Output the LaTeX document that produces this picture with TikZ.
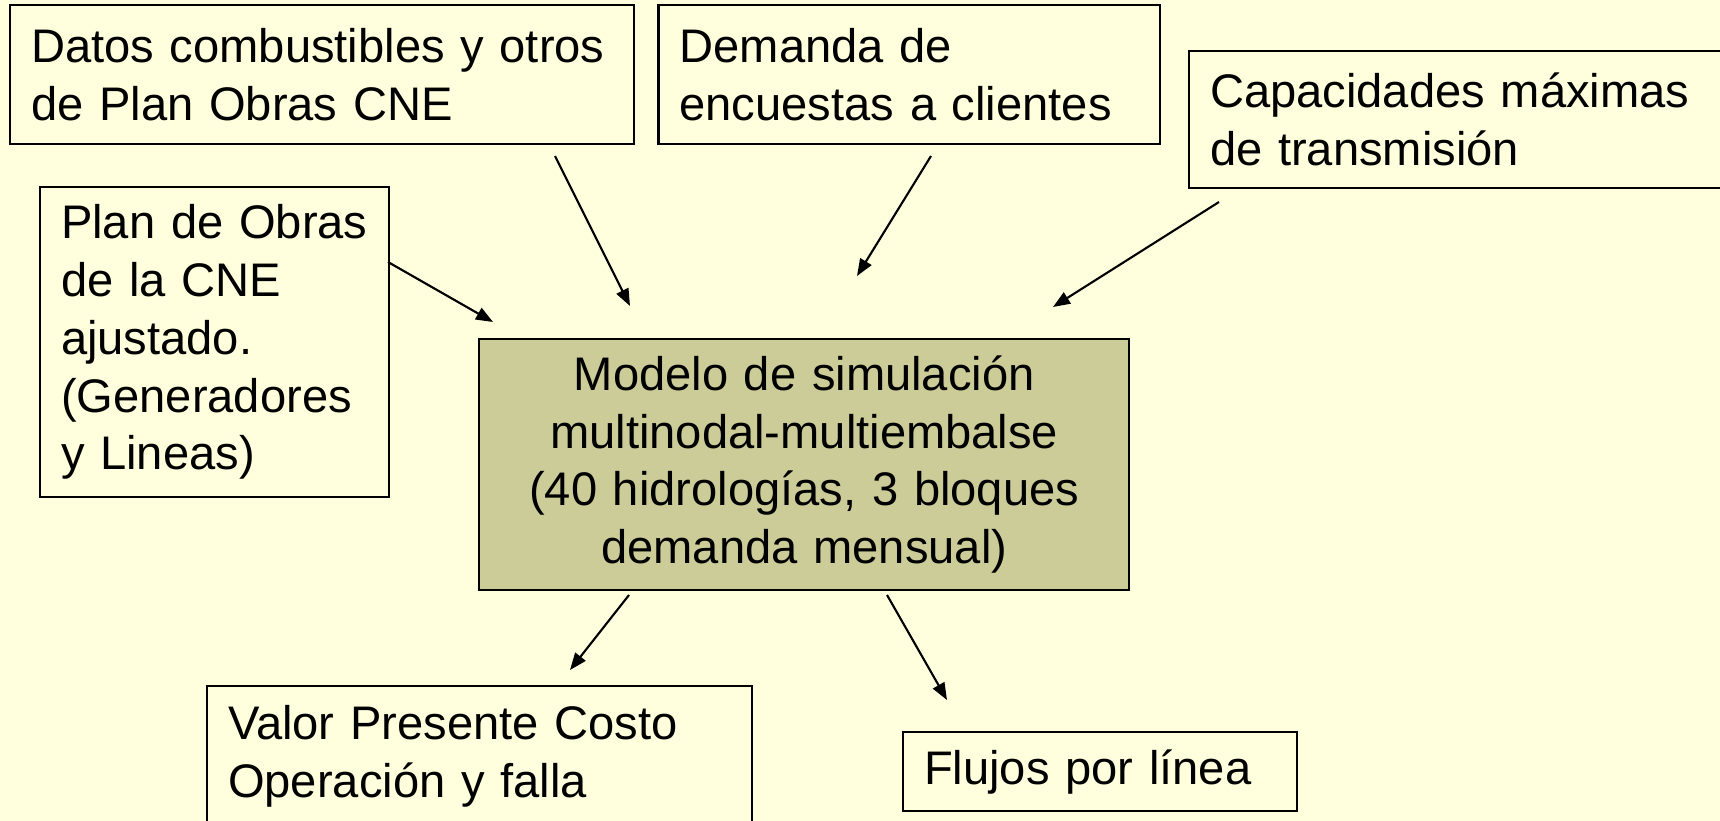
\documentclass[tikz,border=0pt]{standalone}
\usepackage{fontspec}
\setmainfont{Liberation Sans}
\usepackage{tikz}
\usetikzlibrary{positioning, arrows.meta}
\definecolor{fondo}{RGB}{255,255,221}
\definecolor{oliva}{RGB}{204,204,153}
\tikzstyle{caja}=[%
      rectangle, draw=black, line width=0.6pt, fill=fondo, align=left,
      anchor=north west, inner xsep=0.21cm, inner ysep=0pt,
      font=\fontsize{13.4pt}{16.4pt}\selectfont
]
\tikzstyle{modelo}=[%
      caja, fill=oliva, align=center
]
\begin{document}
\begin{tikzpicture}[x=0.01cm, y=-0.01cm,
    ->,
    >={Triangle[length=1.7mm, width=1.3mm]},
    line width=0.6pt,
]
    \fill[fondo, -] (0,0) rectangle (1720,821);
    \useasboundingbox (0,0) rectangle (1720,821);

    \node[caja, text width=5.82cm, minimum height=1.39cm] (datos) at (9,4)
        {Datos combustibles y otros\\de Plan Obras CNE};
    \node[caja, text width=4.59cm, minimum height=1.39cm] (demanda) [right=0.22cm of datos]
        {Demanda de\\encuestas a clientes};
    \node[caja, text width=5.18cm, minimum height=1.37cm] (capac) at (1188,50)
        {Capacidades m\'aximas\\de transmisi\'on};
    \node[caja, inner xsep=0.16cm, text width=3.17cm, minimum height=3.10cm] (plan) at (39,186)
        {\hspace*{0.05cm}Plan de Obras\\\hspace*{0.05cm}de la CNE\\\hspace*{0.05cm}ajustado.\\\hspace*{0.05cm}(Generadores\\\hspace*{0.05cm}y Lineas)};
    \node[modelo, text width=6.08cm, minimum height=2.51cm] (modelo) at (478,338)
        {Modelo de simulaci\'on\\multinodal-multiembalse\\(40 hidrolog\'ias, 3 bloques\\demanda mensual)};
    \node[caja, text width=5.03cm, minimum height=1.40cm] (valor) at (206,685)
        {Valor Presente Costo\\Operaci\'on y falla};
    \node[caja, text width=3.52cm, minimum height=0.79cm] (flujos) at (902,731)
        {Flujos por l\'inea};

    % extremos libres de las flechas
    \coordinate (datos-s)  at (555,156);
    \coordinate (mod-in1)  at (630,306);
    \coordinate (dem-s)    at (931,156);
    \coordinate (mod-in2)  at (857,276);
    \coordinate (capac-s)  at (1219,202);
    \coordinate (mod-in3)  at (1053,307);
    \coordinate (plan-e)   at (388,262);
    \coordinate (mod-in4)  at (493,322);
    \coordinate (mod-out1) at (629,595);
    \coordinate (valor-n)  at (570,670);
    \coordinate (mod-out2) at (887,595);
    \coordinate (flujos-n) at (947,700);

    \path (datos-s)  edge (mod-in1)
          (dem-s)    edge (mod-in2)
          (capac-s)  edge (mod-in3)
          (plan-e)   edge (mod-in4)
          (mod-out1) edge (valor-n)
          (mod-out2) edge (flujos-n)
    ;
\end{tikzpicture}
\end{document}
